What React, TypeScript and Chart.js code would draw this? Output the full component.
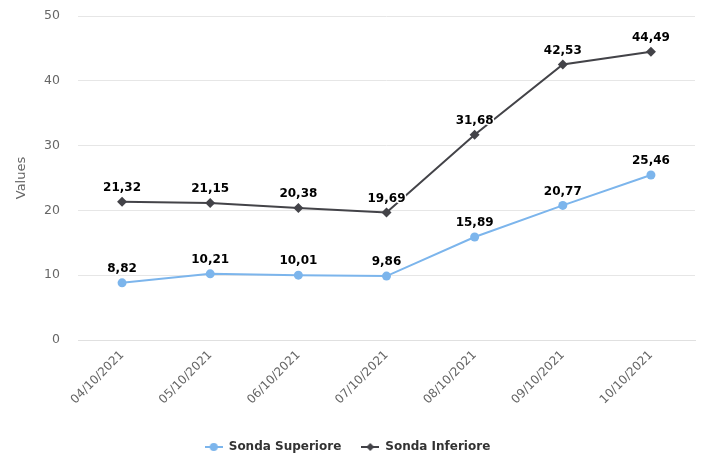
import React, { useEffect, useRef } from "react";
import { Chart, registerables } from "chart.js";

Chart.register(...registerables);

const categories = [
  "04/10/2021",
  "05/10/2021",
  "06/10/2021",
  "07/10/2021",
  "08/10/2021",
  "09/10/2021",
  "10/10/2021",
];
const sondaSuperiore = [8.82, 10.21, 10.01, 9.86, 15.89, 20.77, 25.46];
const sondaInferiore = [21.32, 21.15, 20.38, 19.69, 31.68, 42.53, 44.49];
const yTicks = [0, 10, 20, 30, 40, 50];

const FONT = "'DejaVu Sans', Verdana, sans-serif";
const BLUE = "#7cb5ec";
const DARK = "#434348";

function legendSymbol(color: string, shape: "circle" | "diamond") {
  const c = document.createElement("canvas");
  c.width = 18;
  c.height = 10;
  const ctx = c.getContext("2d")!;
  ctx.strokeStyle = color;
  ctx.lineWidth = 2;
  ctx.beginPath();
  ctx.moveTo(0, 5);
  ctx.lineTo(18, 5);
  ctx.stroke();
  ctx.fillStyle = color;
  ctx.beginPath();
  if (shape === "circle") {
    ctx.arc(9, 5, 4, 0, Math.PI * 2);
  } else {
    ctx.moveTo(9, 1);
    ctx.lineTo(13, 5);
    ctx.lineTo(9, 9);
    ctx.lineTo(5, 5);
    ctx.closePath();
  }
  ctx.fill();
  return c;
}

const fmt = (v: number) => v.toFixed(2).replace(".", ",");

const dataLabelPlugin = {
  id: "dataLabels",
  afterDatasetsDraw(chart: any) {
    const ctx = chart.ctx;
    ctx.save();
    ctx.font = `bold 12px ${FONT}`;
    ctx.textAlign = "center";
    ctx.textBaseline = "middle";
    chart.data.datasets.forEach((ds: any, i: number) => {
      const meta = chart.getDatasetMeta(i);
      meta.data.forEach((pt: any, j: number) => {
        const text = fmt(ds.data[j]);
        const x = pt.x;
        const y = pt.y - 14;
        ctx.lineWidth = 3;
        ctx.strokeStyle = "#ffffff";
        ctx.lineJoin = "round";
        ctx.strokeText(text, x, y);
        ctx.fillStyle = "#000000";
        ctx.fillText(text, x, y);
      });
    });
    ctx.restore();
  },
};

export default function App() {
  const ref = useRef<HTMLCanvasElement>(null);

  useEffect(() => {
    document.body.style.margin = "0";
    const supSym = legendSymbol(BLUE, "circle");
    const infSym = legendSymbol(DARK, "diamond");
    const chart = new Chart(ref.current!, {
      type: "line",
      data: {
        labels: categories,
        datasets: [
          {
            label: "Sonda Superiore",
            data: sondaSuperiore,
            borderColor: BLUE,
            backgroundColor: BLUE,
            borderWidth: 2,
            pointStyle: "circle",
            pointRadius: 4.5,
            pointHoverRadius: 4.5,
            pointBorderWidth: 0,
            tension: 0,
          },
          {
            label: "Sonda Inferiore",
            data: sondaInferiore,
            borderColor: DARK,
            backgroundColor: DARK,
            borderWidth: 2,
            pointStyle: "rectRot",
            pointRadius: 5,
            pointHoverRadius: 5,
            pointBorderWidth: 0,
            tension: 0,
          },
        ],
      },
      options: {
        animation: false,
        responsive: false,
        maintainAspectRatio: false,
        layout: { padding: { top: 16, right: 6, left: 0, bottom: 2 } },
        plugins: {
          tooltip: { enabled: false },
          legend: {
            position: "bottom",
            maxHeight: 34,
            labels: {
              usePointStyle: true,
              pointStyleWidth: 18,
              padding: 20,
              color: "#333333",
              font: { family: FONT, size: 12, weight: "bold" },
              generateLabels: (ch: any) =>
                ch.data.datasets.map((ds: any, i: number) => ({
                  text: ds.label,
                  fillStyle: ds.backgroundColor,
                  strokeStyle: ds.borderColor,
                  lineWidth: 0,
                  pointStyle: i === 0 ? supSym : infSym,
                  hidden: false,
                  datasetIndex: i,
                  fontColor: "#333333",
                })),
            },
          },
        },
        scales: {
          x: {
            offset: true,
            grid: { display: false, drawTicks: false },
            border: { display: true, color: "#e0e0e0", width: 1 },
            afterFit: (scale: any) => {
              scale.height = 81;
            },
            ticks: {
              autoSkip: false,
              maxRotation: 45,
              minRotation: 45,
              padding: 8,
              color: "#666666",
              font: { family: FONT, size: 12 },
            },
          },
          y: {
            min: yTicks[0],
            max: yTicks[yTicks.length - 1],
            afterBuildTicks: (scale: any) => {
              scale.ticks = yTicks.map((v) => ({ value: v }));
            },
            afterFit: (scale: any) => {
              scale.width = 78;
              scale.paddingTop = 0;
              scale.paddingBottom = 0;
            },
            grid: { color: "#e6e6e6", drawTicks: false },
            border: { display: false },
            ticks: {
              padding: 18,
              color: "#666666",
              font: { family: FONT, size: 12.5 },
            },
            title: {
              display: true,
              text: "Values",
              color: "#666666",
              font: { family: FONT, size: 13 },
              padding: { top: 14, bottom: 0 },
            },
          },
        },
      },
      plugins: [dataLabelPlugin],
    });
    return () => chart.destroy();
  }, []);

  return (
    <div style={{ width: 701, height: 457 }}>
      <canvas ref={ref} width={701} height={457} style={{ display: "block" }} />
    </div>
  );
}
